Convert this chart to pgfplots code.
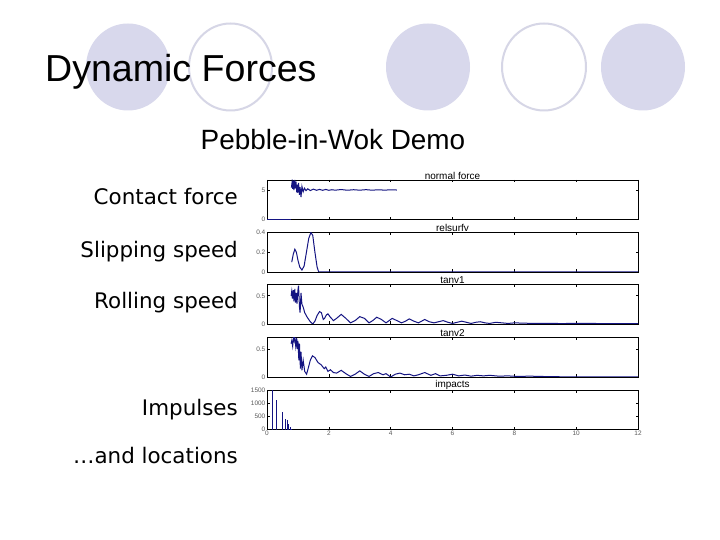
\documentclass[border=0pt]{standalone}
\usepackage{fontspec}
\usepackage{pgfplots}
\pgfplotsset{compat=1.18}
\setmainfont{Liberation Sans}
\newfontfamily\labelfont{DejaVu Sans}
\definecolor{lav}{RGB}{216,216,236}
\definecolor{lavline}{RGB}{214,214,230}
\definecolor{dblue}{RGB}{20,20,130}
\definecolor{tickgray}{RGB}{90,90,90}
\newcommand\tickfont{\fontsize{6.5}{7}\selectfont}
\pgfplotsset{
  slide/.style={
    scale only axis, width=371bp, height=39.5bp,
    xmin=0, xmax=12, xtick={0,2,...,12},
    anchor=south west,
    tick align=inside, major tick length=2.5bp,
    axis line style={line width=0.6bp},
    every tick/.style={line width=0.6bp, black},
    ticklabel style={font=\tickfont, text=tickgray},
    /pgf/number format/assume math mode=true,
    title style={font=\tickfont, text=tickgray, inner sep=0.5bp},
    every axis title/.style={at={(0.5,1)}, anchor=south, inner sep=0.5bp},
    yticklabel style={inner sep=1.5bp},
    xticklabel style={inner sep=1.5bp},
  },
  dat/.style={dblue, line width=1bp, no markers},
}
\begin{document}
\begin{tikzpicture}[x=1bp,y=1bp]
\useasboundingbox (0,0) rectangle (720,540);
\fill[white] (0,0) rectangle (720,540);
% decorative circles
\fill[lav] (128,473) ellipse [x radius=42, y radius=43.5];
\draw[lavline, line width=2bp, fill=white] (230.5,473) ellipse [x radius=41.5, y radius=43.5];
\fill[lav] (428,473) ellipse [x radius=42, y radius=43.5];
\draw[lavline, line width=2bp, fill=white] (544,473) ellipse [x radius=42, y radius=43.5];
\fill[lav] (643,473) ellipse [x radius=42, y radius=43.5];
% titles
\node[anchor=base west, inner sep=0, font=\fontsize{37.7}{40}\selectfont] at (45,458) {Dynamic Forces};
\node[anchor=base, inner sep=0, font=\fontsize{28}{30}\selectfont] at (333,390) {Pebble-in-Wok Demo};
% left labels
\begin{scope}[every node/.style={anchor=base east, inner sep=0, font=\labelfont\fontsize{21.5}{24}\selectfont}]
\node at (238,335) {Contact force};
\node at (238,282.5) {Slipping speed};
\node at (238,231.5) {Rolling speed};
\node at (238,124.5) {Impulses};
\node at (238,76.5) {…and locations};
\end{scope}
% axis 1: normal force
\begin{axis}[slide, at={(267bp,320.5bp)}, ymin=0, ymax=6.7, ytick={0,5}, xticklabels={}, title={normal force}]
\addplot[dat] coordinates {(0,0)(0.78,0)};
\addplot[dat] coordinates {(0.79,5.4)(0.81,6.3)(0.83,5.2)(0.85,6.6)(0.87,5.0)(0.9,6.7)(0.92,5.3)(0.94,6.4)(0.96,4.6)(0.98,5.9)(1.0,4.5)(1.02,6.2)(1.05,4.2)(1.07,5.5)(1.1,3.8)(1.13,5.6)(1.17,4.7)(1.21,5.3)(1.26,4.9)(1.32,5.2)(1.4,4.9)(1.5,5.15)(1.6,4.95)(1.7,5.1)(1.8,4.95)(1.9,5.1)(2.0,4.95)(2.1,5.05)(2.2,4.97)(2.4,5.08)(2.6,4.96)(2.8,5.05)(3.0,4.97)(3.2,5.06)(3.4,4.97)(3.6,5.04)(3.8,4.98)(4.0,5.03)(4.2,5.0)};
\end{axis}
% axis 2: relsurfv
\begin{axis}[slide, at={(267bp,268bp)}, ymin=0, ymax=0.4, ytick={0,0.2,0.4}, yticklabels={0,0.2,0.4}, xticklabels={}, title={relsurfv}]
\addplot[dat] coordinates {(0.8,0.1)(0.85,0.18)(0.9,0.23)(0.95,0.2)(1.0,0.12)(1.06,0.05)(1.13,0.02)(1.2,0.06)(1.27,0.19)(1.35,0.34)(1.42,0.4)(1.48,0.37)(1.55,0.2)(1.62,0.05)(1.67,0.002)(12,0.002)};
\end{axis}
% axis 3: tanv1
\begin{axis}[slide, at={(267bp,216bp)}, ymin=0, ymax=0.7, ytick={0,0.5}, yticklabels={0,0.5}, xticklabels={}, title={tanv1}]
\addplot[dat] coordinates {(0.78,0.5)(0.8,0.58)(0.82,0.45)(0.85,0.6)(0.87,0.4)(0.9,0.62)(0.92,0.38)(0.95,0.55)(0.97,0.36)(1.0,0.6)(1.02,0.68)(1.05,0.3)(1.07,0.2)(1.1,0.55)(1.13,0.35)(1.17,0.3)(1.22,0.2)(1.3,0.12)(1.4,0.04)(1.48,0.0)(1.55,0.05)(1.62,0.15)(1.7,0.22)(1.76,0.2)(1.82,0.08)(1.86,0.1)(1.92,0.16)(1.97,0.18)(2.05,0.12)(2.15,0.06)(2.25,0.1)(2.4,0.17)(2.55,0.1)(2.7,0.02)(2.85,0.06)(3.0,0.13)(3.15,0.1)(3.3,0.02)(3.42,0.06)(3.55,0.12)(3.7,0.08)(3.85,0.02)(3.95,0.06)(4.05,0.1)(4.2,0.06)(4.35,0.02)(4.48,0.05)(4.6,0.09)(4.75,0.05)(4.9,0.02)(5.0,0.05)(5.1,0.08)(5.25,0.04)(5.4,0.02)(5.55,0.04)(5.7,0.06)(5.85,0.03)(6.0,0.01)(6.15,0.03)(6.3,0.05)(6.45,0.03)(6.6,0.01)(6.75,0.03)(6.9,0.04)(7.05,0.02)(7.2,0.01)(7.4,0.03)(7.6,0.02)(7.8,0.01)(8.0,0.02)(8.3,0.015)(8.6,0.01)(9.0,0.012)(9.5,0.008)(10,0.01)(11,0.008)(12,0.008)};
\end{axis}
% axis 4: tanv2
\begin{axis}[slide, at={(267bp,163bp)}, ymin=0, ymax=0.71, ytick={0,0.5}, yticklabels={0,0.5}, xticklabels={}, title={tanv2}]
\addplot[dat] coordinates {(0.78,0.6)(0.8,0.65)(0.83,0.55)(0.86,0.75)(0.88,0.66)(0.9,0.72)(0.93,0.55)(0.96,0.7)(0.98,0.5)(1.0,0.65)(1.03,0.3)(1.05,0.6)(1.08,0.15)(1.1,0.45)(1.13,0.12)(1.17,0.3)(1.22,0.1)(1.28,0.05)(1.33,0.15)(1.4,0.3)(1.47,0.38)(1.55,0.35)(1.65,0.26)(1.75,0.22)(1.85,0.15)(1.9,0.18)(1.97,0.1)(2.05,0.13)(2.15,0.08)(2.25,0.07)(2.4,0.12)(2.55,0.06)(2.7,0.01)(2.85,0.05)(3.0,0.11)(3.15,0.05)(3.3,0.01)(3.45,0.06)(3.6,0.08)(3.75,0.04)(3.85,0.06)(4.0,0.0)(4.15,0.05)(4.3,0.07)(4.45,0.04)(4.6,0.05)(4.75,0.02)(4.9,0.04)(5.1,0.08)(5.3,0.03)(5.45,0.06)(5.6,0.02)(5.8,0.03)(6.0,0.05)(6.2,0.02)(6.4,0.035)(6.6,0.015)(6.8,0.03)(7.0,0.02)(7.2,0.03)(7.5,0.015)(7.8,0.02)(8.1,0.01)(8.5,0.015)(9.0,0.008)(9.5,0.004)(12,0.004)};
\end{axis}
% axis 5: impacts
\begin{axis}[slide, at={(267bp,110.3bp)}, ymin=0, ymax=1500, ytick={0,500,1000,1500}, yticklabels={0,500,1000,1500}, title={impacts}]
\addplot[dblue, line width=1bp, ycomb, no markers] coordinates {(0.17,1550)(0.32,1130)(0.49,660)(0.59,390)(0.65,350)(0.71,200)(0.75,90)(0.78,30)};
\end{axis}
\end{tikzpicture}
\end{document}
